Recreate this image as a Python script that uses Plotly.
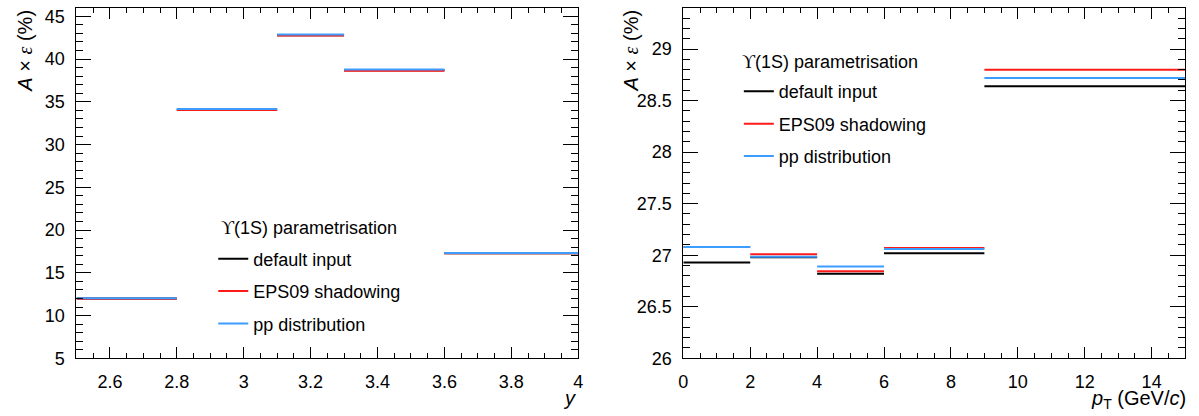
import plotly.graph_objects as go

# Bin edges and acceptance x efficiency values (%) for the Upsilon(1S) parametrisations
y_edges = [2.5, 2.8, 3.1, 3.3, 3.6, 4.0]
y_default = [12.00, 34.10, 42.80, 38.70, 17.30]
y_eps09 = [11.97, 34.05, 42.75, 38.65, 17.30]
y_pp = [12.03, 34.15, 42.88, 38.78, 17.32]

pt_edges = [0, 2, 4, 6, 9, 15]
pt_default = [26.93, 26.98, 26.82, 27.02, 28.64]
pt_eps09 = [27.08, 27.01, 26.845, 27.07, 28.80]
pt_pp = [27.08, 26.985, 26.89, 27.06, 28.72]

series_names = ["default input", "EPS09 shadowing", "pp distribution"]
series_colors = ["#000000", "#ff1a1a", "#3d9dff"]

FONT = "Liberation Sans, Arial, sans-serif"
W, H = 1199, 416


def steps(edges, values):
    """Horizontal segment for every bin, separated by gaps."""
    xs, ys = [], []
    for lo, hi, v in zip(edges[:-1], edges[1:], values):
        xs += [lo, hi, None]
        ys += [v, v, None]
    return xs, ys


fig = go.Figure()

panels = [
    ("x", "y", "legend", y_edges, [y_default, y_eps09, y_pp]),
    ("x2", "y2", "legend2", pt_edges, [pt_default, pt_eps09, pt_pp]),
]
for xa, ya, leg, edges, series in panels:
    for name, color, vals in zip(series_names, series_colors, series):
        xs, ys = steps(edges, vals)
        fig.add_trace(go.Scatter(
            x=xs, y=ys, mode="lines", name=name,
            line=dict(color=color, width=2),
            xaxis=xa, yaxis=ya, legend=leg, legendgroup=leg + name,
            hoverinfo="skip",
        ))

axis_common = dict(
    showline=True, linecolor="black", linewidth=1, mirror="ticks",
    ticks="inside", tickcolor="black", tickwidth=1,
    showgrid=False, zeroline=False,
    tickfont=dict(family=FONT, size=18, color="black"),
)
x_common = dict(ticklen=11, ticklabelstandoff=7, **axis_common)
y_common = dict(ticklen=15, ticklabelstandoff=7, **axis_common)

legend_common = dict(
    bgcolor="rgba(0,0,0,0)", borderwidth=0,
    font=dict(family=FONT, size=18, color="black"),
    tracegroupgap=6, itemwidth=30,
    xanchor="left", yanchor="top",
)

fig.update_layout(
    width=W, height=H, autosize=False,
    margin=dict(l=0, r=0, t=0, b=0),
    paper_bgcolor="white", plot_bgcolor="white",
    showlegend=True,
    xaxis=dict(domain=[0.0601, 0.4821], range=[2.5, 4.0], dtick=0.2,
               minor=dict(dtick=0.05, ticklen=5, ticks="inside", tickcolor="black"),
               anchor="y", **x_common),
    yaxis=dict(domain=[0.1178, 0.9832], range=[5, 46], dtick=5,
               minor=dict(dtick=1, ticklen=7, ticks="inside", tickcolor="black"),
               anchor="x", **y_common),
    xaxis2=dict(domain=[0.5705, 0.9925], range=[0, 15], dtick=2,
                minor=dict(dtick=0.5, ticklen=5, ticks="inside", tickcolor="black"),
                anchor="y2", **x_common),
    yaxis2=dict(domain=[0.1178, 0.9832], range=[26, 29.4], dtick=0.5,
                minor=dict(dtick=0.1, ticklen=7, ticks="inside", tickcolor="black"),
                anchor="x2", **y_common),
    legend=dict(x=210 / W, y=1 - 246 / H, **legend_common),
    legend2=dict(x=740 / W, y=1 - 74 / H, **legend_common),
)

# Legend headers
upsilon = '<span style="font-family:Liberation Serif, serif">ϒ</span>(1S) parametrisation'
for px, py in [(216, 233), (741, 63)]:
    fig.add_annotation(text=upsilon, xref="paper", yref="paper", x=px / W, y=1 - py / H,
                       xanchor="left", yanchor="middle", showarrow=False,
                       font=dict(family=FONT, size=18, color="black"))

# Axis titles
ytitle = ('<i>A</i> × <i><span style="font-family:Liberation Serif, serif">ε</span></i> (%)')
for px in [20, 631]:
    fig.add_annotation(text=ytitle, textangle=-90, xref="paper", yref="paper",
                       x=px / W, y=0.9832, xanchor="center", yanchor="top",
                       showarrow=False, font=dict(family=FONT, size=20, color="black"))

fig.add_annotation(text="<i>y</i>", xref="paper", yref="paper", x=578 / W, y=1 - 394 / H,
                   xanchor="right", yanchor="top", showarrow=False,
                   font=dict(family=FONT, size=20, color="black"))
fig.add_annotation(text="<i>p</i><sub>T</sub> (GeV/<i>c</i>)", xref="paper", yref="paper",
                   x=1193 / W, y=-8 / H, xanchor="right", yanchor="bottom",
                   showarrow=False, font=dict(family=FONT, size=20, color="black"))

fig.write_html("out.html")
